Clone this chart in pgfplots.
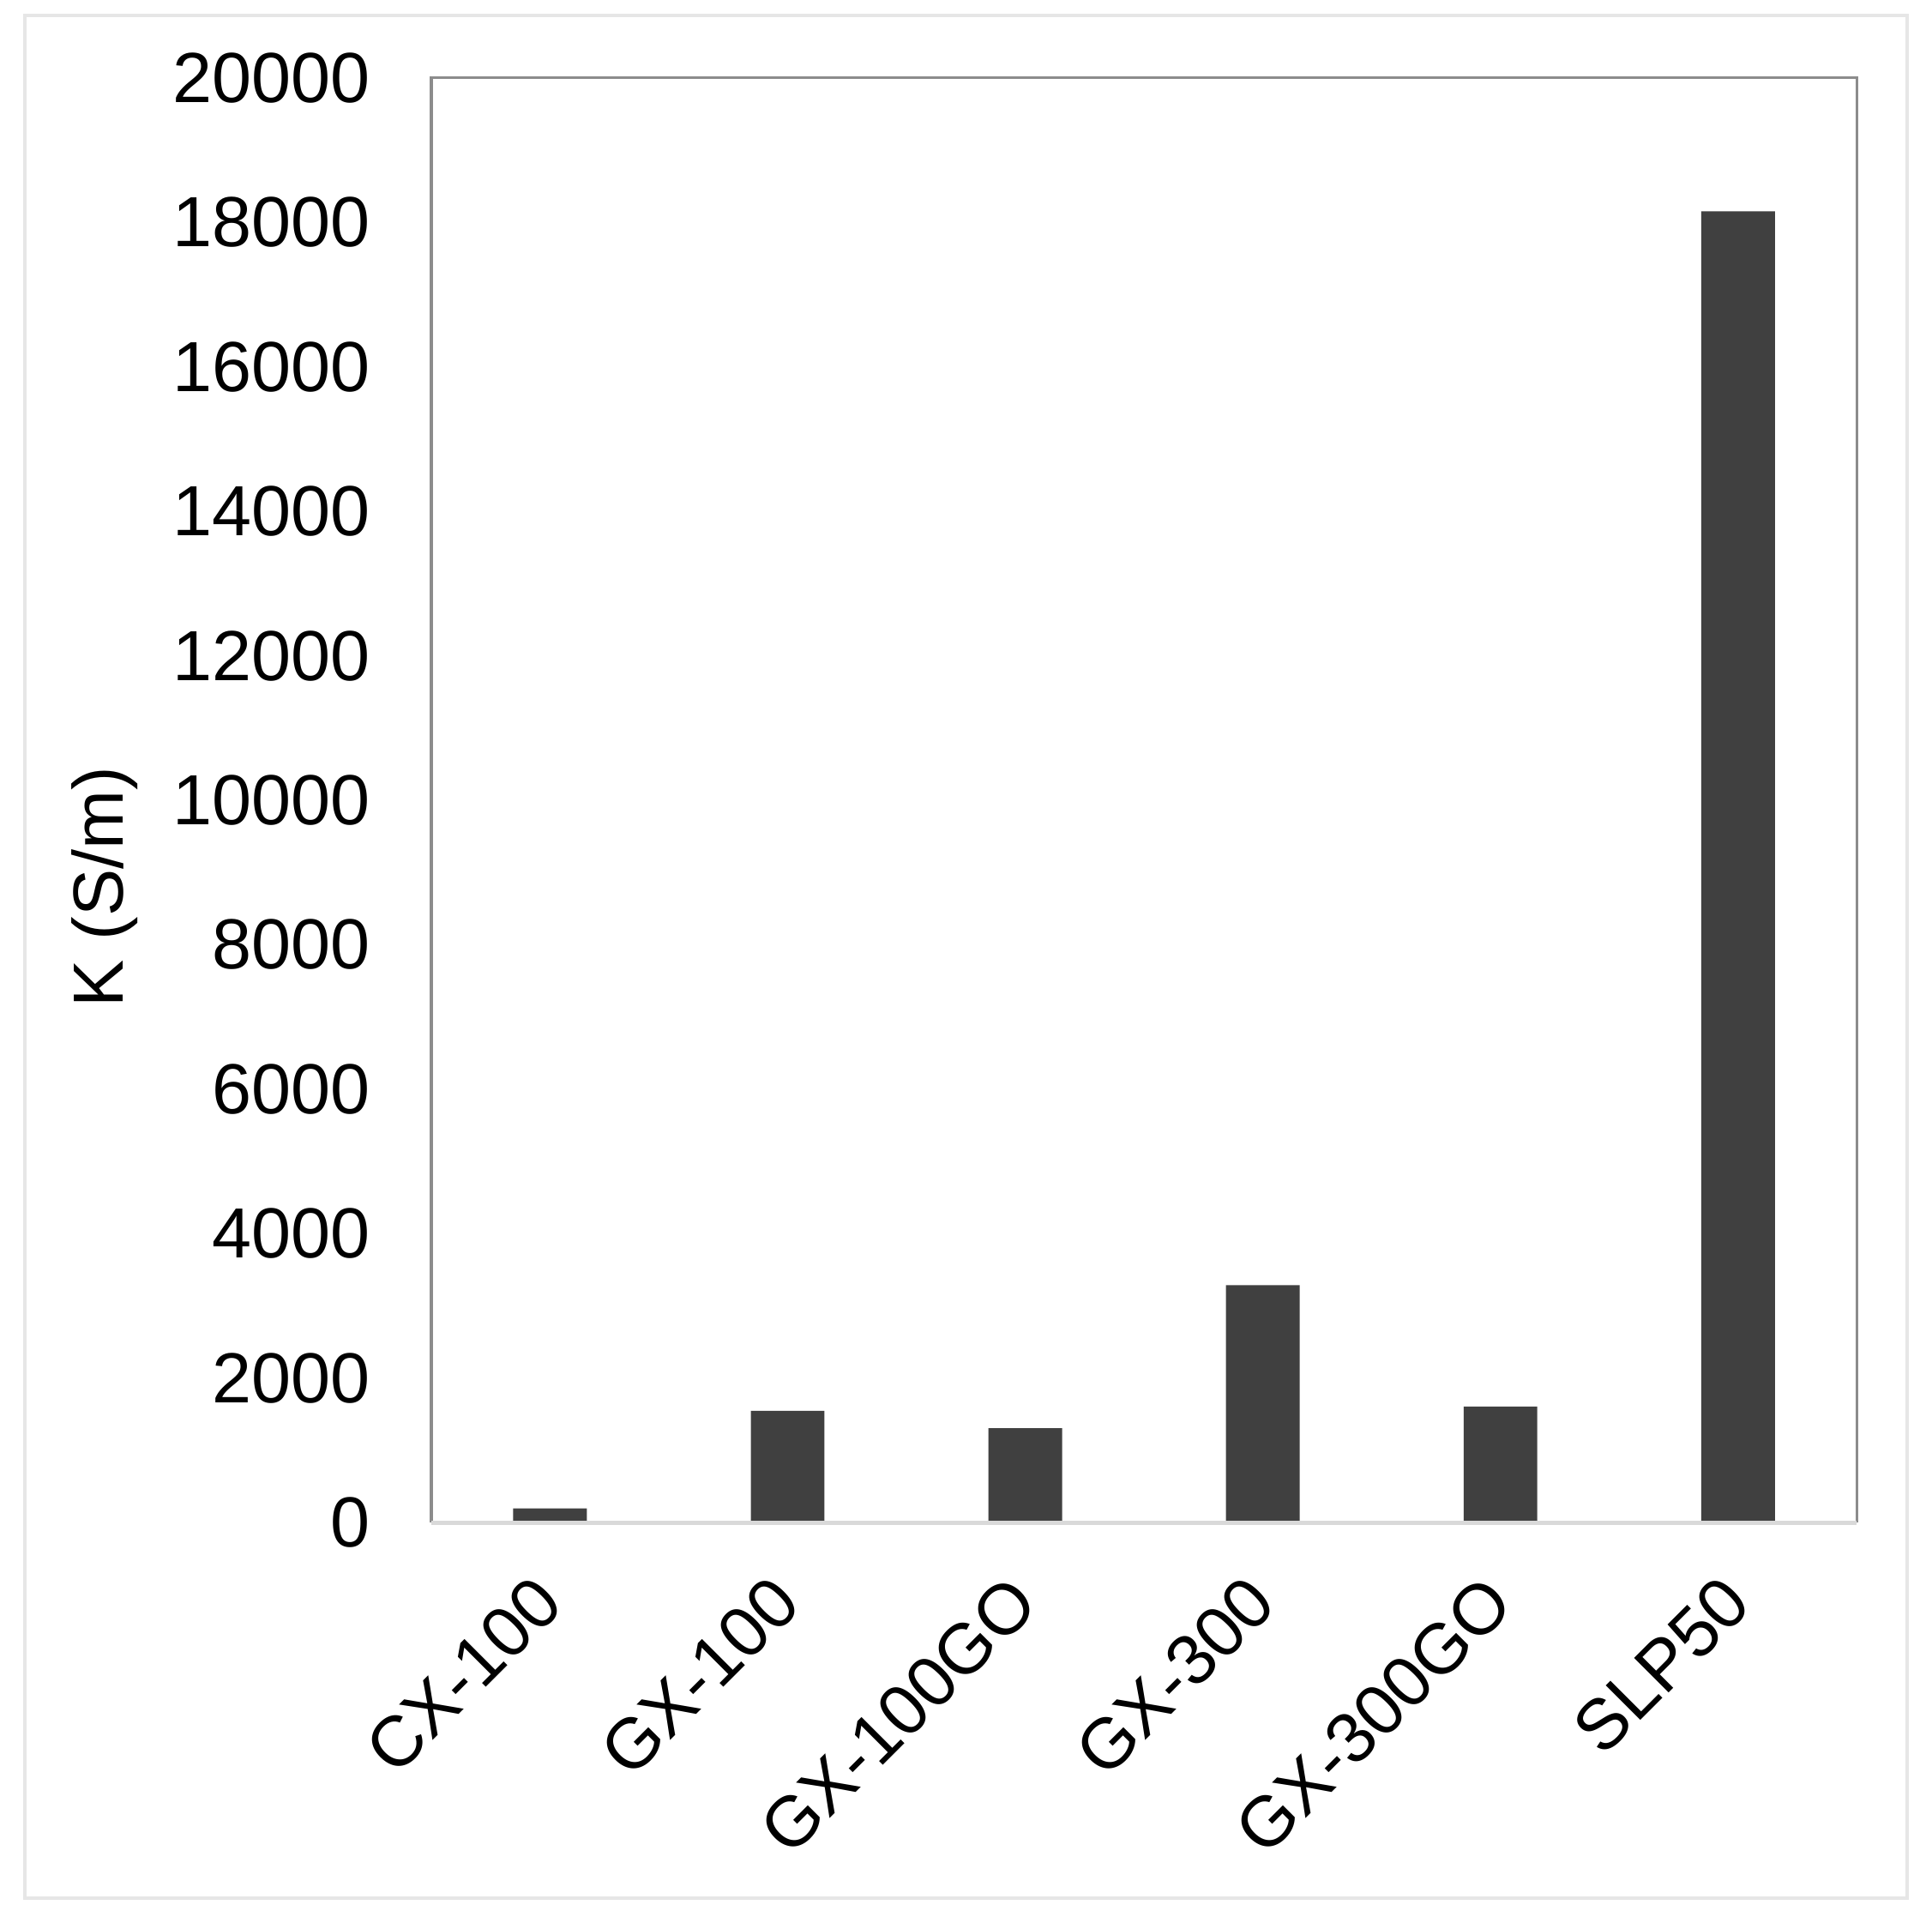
\documentclass[border=0pt]{standalone}
\usepackage{pgfplots}
\pgfplotsset{compat=1.18}
\usepackage{fontspec}
\setmainfont{Liberation Sans}
\definecolor{barfill}{HTML}{404040}
\definecolor{frameline}{HTML}{8C8C8C}
\definecolor{catline}{HTML}{D9D9D9}
\definecolor{outerframe}{HTML}{E6E6E6}

\begin{document}
\begin{tikzpicture}
\begin{axis}[
    width=335.5pt, height=340pt,
    scale only axis,
    ybar, bar width=0.31,
    xmin=-0.5, xmax=5.5,
    ymin=0, ymax=20000,
    ytick={0,2000,...,20000},
    xtick=data,
    xticklabels={CX-100,GX-100,GX-100GO,GX-300,GX-300GO,SLP50},
    major tick length=0pt,
    font=\fontsize{16.7}{20}\selectfont,
    /pgf/number format/assume math mode=true,
    /pgf/number format/1000 sep={},
    scaled y ticks=false,
    yticklabel style={xshift=-10.9pt},
    % shifts below act in the rotated frame
    xticklabel style={rotate=45, anchor=north east, xshift=-7.9pt, yshift=-1.5pt},
    ylabel={K (S/m)},
    ylabel style={at={(axis description cs:-0.229,0.44)}, anchor=center},
    axis line style={draw=none},
    clip=false,
]
\addplot[fill=barfill, draw=none] coordinates {
    (0,200) (1,1550) (2,1310) (3,3290) (4,1610) (5,18150)
};
% plot area border: grey on three sides, light grey category axis
\draw[frameline, line width=0.7pt] (rel axis cs:0,0) -- (rel axis cs:0,1) -- (rel axis cs:1,1) -- (rel axis cs:1,0);
\draw[catline, line width=0.9pt] (rel axis cs:0,0) -- (rel axis cs:1,0);
% chart area frame
\draw[outerframe, line width=0.8pt] (rel axis cs:-0.285,-0.26) rectangle (rel axis cs:1.035,1.043);
\path (rel axis cs:-0.3025,-0.2765) rectangle (rel axis cs:1.0527,1.0538);
\end{axis}
\end{tikzpicture}
\end{document}
